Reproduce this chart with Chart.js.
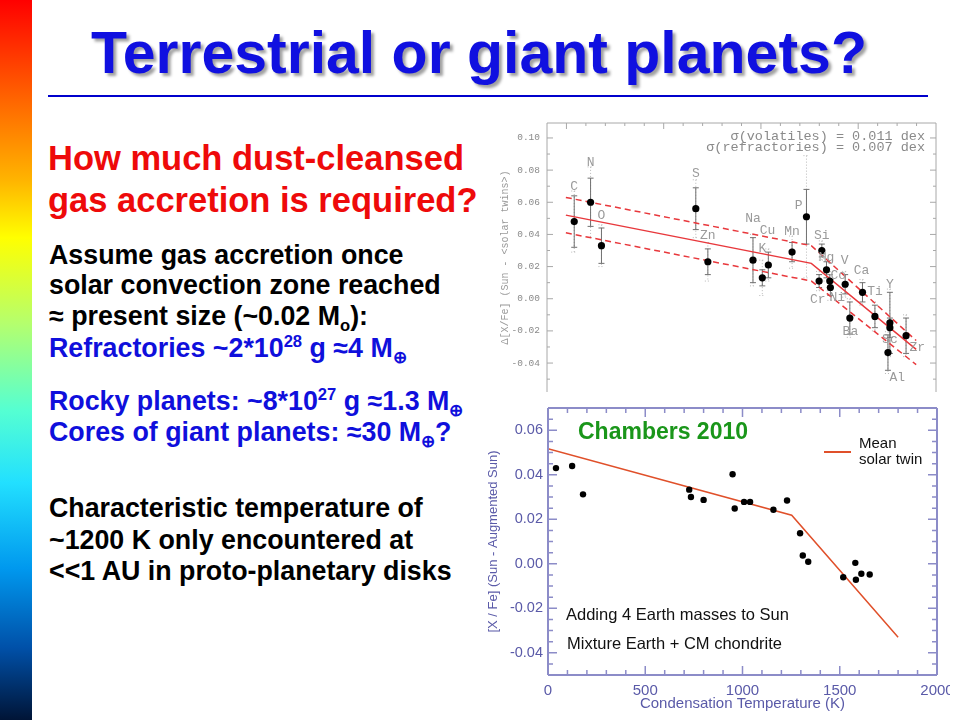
<!DOCTYPE html>
<html>
<head>
<meta charset="utf-8">
<script src="https://cdn.jsdelivr.net/npm/chart.js@4.4.0/dist/chart.umd.min.js"></script>
<style>
html, body { margin: 0; padding: 0; background: #fff; }
body { width: 960px; height: 720px; position: relative; overflow: hidden; font-family: "Liberation Sans", Arial, sans-serif; }
#bar { position: absolute; left: 0; top: 0; width: 32px; height: 720px;
  background: linear-gradient(to bottom, #ff0000 0%, #ff6600 14%, #ffb400 25%, #ffff00 33%, #b4ff6e 45%, #55ffd2 57%, #22e0ff 67%, #0098ee 79%, #0050a8 90%, #001436 100%); }
#rule { position: absolute; left: 48px; top: 95px; width: 880px; height: 2px; background: #0000cc; }
.ln { position: absolute; white-space: nowrap; font-weight: bold; }
.title { font-size: 59px; line-height: 59px; color: #1010e0; text-shadow: 3px 3px 3px #a0a0a0; }
.red { font-size: 34.5px; line-height: 34.5px; color: #ee0a0a; }
.blk { font-size: 26.8px; line-height: 26.8px; color: #000; }
.blu { font-size: 26.8px; line-height: 26.8px; color: #0f0fdc; }
sup, sub { font-size: 62%; line-height: 0; }
.note { position: absolute; white-space: nowrap; font-size: 16.5px; line-height: 16.5px; color: #111; }
.leg { position: absolute; white-space: nowrap; font-size: 15px; line-height: 15px; color: #111; }
canvas { position: absolute; }
</style>
</head>
<body>
<div id="bar"></div>
<div class="ln title" style="left:91px; top:24px;">Terrestrial or giant planets?</div>
<div id="rule"></div>

<div class="ln red" style="left:48px; top:141px;">How much dust-cleansed</div>
<div class="ln red" style="left:48px; top:183px;">gas accretion is required?</div>

<div class="ln blk" style="left:49px; top:242px;">Assume gas accretion once</div>
<div class="ln blk" style="left:49px; top:272px;">solar convection zone reached</div>
<div class="ln blk" style="left:49px; top:303px;">≈ present size (~0.02 M<sub>o</sub>):</div>
<div class="ln blu" style="left:49px; top:335px;">Refractories ~2*10<sup>28</sup> g ≈4 M<sub>⊕</sub></div>
<div class="ln blu" style="left:49px; top:388px;">Rocky planets: ~8*10<sup>27</sup> g ≈1.3 M<sub>⊕</sub></div>
<div class="ln blu" style="left:49px; top:419px;">Cores of giant planets: ≈30 M<sub>⊕</sub>?</div>

<div class="ln blk" style="left:49px; top:495px;">Characteristic temperature of</div>
<div class="ln blk" style="left:49px; top:527px;">~1200 K only encountered at</div>
<div class="ln blk" style="left:49px; top:558px;">&lt;&lt;1 AU in proto-planetary disks</div>

<canvas id="twins" width="455" height="285" style="left:490px; top:115px;"></canvas>
<canvas id="chambers" width="470" height="320" style="left:480px; top:400px;"></canvas>

<div class="ln" style="left:578px; top:420px; font-size:23px; line-height:23px; color:#1a961a;">Chambers 2010</div>
<div style="position:absolute; left:824px; top:451px; width:27px; height:2px; background:#e0502a;"></div>
<div class="leg" style="left:859px; top:435px;">Mean</div>
<div class="leg" style="left:859px; top:451px;">solar twin</div>
<div class="note" style="left:566px; top:606px;">Adding 4 Earth masses to Sun</div>
<div class="note" style="left:567px; top:635px;">Mixture Earth + CM chondrite</div>

<script>
// top panel: solar vs solar twins, by condensation temperature
const elements = ['C', 'N', 'O', 'S', 'Zn', 'Na', 'K', 'Cu', 'Mn', 'P', 'Si', 'Cr', 'Mg', 'Co', 'Ni', 'V', 'Ca', 'Ba', 'Ti', 'Y', 'Sc', 'Al', 'Zr'];
const topTc = [40, 124, 180, 665, 727, 959, 1007, 1038, 1160, 1234, 1313, 1299, 1337, 1354, 1357, 1433, 1522, 1457, 1586, 1663, 1663, 1653, 1746];
const topDelta = [0.048, 0.060, 0.033, 0.056, 0.023, 0.024, 0.013, 0.021, 0.029, 0.051, 0.030, 0.011, 0.018, 0.011, 0.007, 0.009, 0.004, -0.012, -0.011, -0.015, -0.018, -0.0335, -0.023];
const topErr = [0.016, 0.015, 0.011, 0.013, 0.008, 0.014, 0.005, 0.008, 0.006, 0.017, 0.004, 0.004, 0.005, 0.004, 0.005, 0.006, 0.006, 0.010, 0.007, 0.019, 0.006, 0.011, 0.011];
const topErrWide = [0.019, 0.022, 0.013, 0.018, 0.012, 0.016, 0.011, 0.010, 0.010, 0.038, 0.006, 0.006, 0.007, 0.006, 0.008, 0.008, 0.008, 0.012, 0.009, 0.021, 0.008, 0.013, 0.013];
// where each element name sits, in data units
const labelTc = [40, 124, 180, 665, 727, 959, 1007, 1034, 1160, 1194, 1313, 1292, 1337, 1398, 1392, 1430, 1517, 1460, 1586, 1663, 1663, 1701, 1804];
const labelDelta = [0.070, 0.085, 0.0518, 0.0778, 0.0393, 0.0497, 0.0315, 0.0424, 0.042, 0.058, 0.0395, -0.0004, 0.0255, 0.0147, 0.0006, 0.024, 0.0178, -0.0207, 0.0043, 0.0091, -0.0253, -0.049, -0.0306];

const fitTc = [-3, 1259, 1798];
const fitDelta = [0.052, 0.022, -0.0315];
const fitUpper = [0.063, 0.033, -0.026];
const fitLower = [0.041, 0.011, -0.041];
const topYTicks = [-0.04, -0.02, 0.00, 0.02, 0.04, 0.06, 0.08, 0.10];

// bottom panel: Chambers 2010 model
const chTc = [41, 124, 180, 726, 735, 800, 949, 960, 1008, 1039, 1159, 1229, 1296, 1310, 1338, 1518, 1580, 1583, 1611, 1654];
const chDelta = [0.043, 0.0439, 0.0312, 0.0333, 0.030, 0.0287, 0.0402, 0.0248, 0.0278, 0.0278, 0.0243, 0.0284, 0.0137, 0.0037, 0.0009, -0.0061, 0.0004, -0.0072, -0.0045, -0.0048];
const twinTc = [0, 1253, 1800];
const twinDelta = [0.0517, 0.0218, -0.033];
const botXTicks = [0, 500, 1000, 1500, 2000];
const botYTicks = [-0.04, -0.02, 0.00, 0.02, 0.04, 0.06];

const pts = (xs, ys) => xs.map((v, i) => ({ x: v, y: ys[i] }));

// box with inward ticks on the chosen sides
const framePlugin = {
    id: 'frame',
    afterDraw(chart, args, o) {
        const { ctx, chartArea: a, scales: { x, y } } = chart;
        ctx.save();
        ctx.strokeStyle = o.color;
        ctx.lineWidth = o.width;
        ctx.beginPath();
        if (o.sides.includes('l')) { ctx.moveTo(a.left, a.bottom); ctx.lineTo(a.left, a.top); }
        if (o.sides.includes('t')) { ctx.moveTo(a.left, a.top); ctx.lineTo(a.right, a.top); }
        if (o.sides.includes('r')) { ctx.moveTo(a.right, a.top); ctx.lineTo(a.right, a.bottom); }
        if (o.sides.includes('b')) { ctx.moveTo(a.right, a.bottom); ctx.lineTo(a.left, a.bottom); }
        ctx.stroke();

        ctx.lineWidth = o.tickWidth;
        ctx.beginPath();
        const isMajor = (v, m) => Math.abs(v / m - Math.round(v / m)) < 1e-6;
        const nx = Math.round((o.x.to - o.x.from) / o.x.step);
        for (let i = 0; i <= nx; i++) {
            const v = o.x.from + i * o.x.step;
            const px = x.getPixelForValue(v);
            if (px < a.left + 1 || px > a.right - 1) continue;
            const len = isMajor(v, o.x.major) ? o.major : o.minor;
            if (o.sides.includes('b')) { ctx.moveTo(px, a.bottom); ctx.lineTo(px, a.bottom - len); }
            if (o.sides.includes('t')) { ctx.moveTo(px, a.top); ctx.lineTo(px, a.top + len); }
        }
        const ny = Math.round((o.y.to - o.y.from) / o.y.step);
        for (let i = 0; i <= ny; i++) {
            const v = o.y.from + i * o.y.step;
            const py = y.getPixelForValue(v);
            if (py < a.top + 1 || py > a.bottom - 1) continue;
            const len = isMajor(v, o.y.major) ? o.major : o.minor;
            if (o.sides.includes('l')) { ctx.moveTo(a.left, py); ctx.lineTo(a.left + len, py); }
            if (o.sides.includes('r')) { ctx.moveTo(a.right, py); ctx.lineTo(a.right - len, py); }
        }
        ctx.stroke();
        ctx.restore();
    }
};

// error bars: solid inner, dotted outer; element names and sigma note
const errorBarPlugin = {
    id: 'errbars',
    beforeDatasetsDraw(chart, args, o) {
        if (!o.enabled) return;
        const { ctx, scales: { x, y } } = chart;
        ctx.save();
        topTc.forEach((t, i) => {
            const px = x.getPixelForValue(t);
            const draw = (e, color, dash, cap) => {
                const y1 = y.getPixelForValue(topDelta[i] + e);
                const y2 = y.getPixelForValue(topDelta[i] - e);
                ctx.strokeStyle = color;
                ctx.setLineDash(dash);
                ctx.beginPath();
                ctx.moveTo(px, y1); ctx.lineTo(px, y2);
                ctx.moveTo(px - cap, y1); ctx.lineTo(px + cap, y1);
                ctx.moveTo(px - cap, y2); ctx.lineTo(px + cap, y2);
                ctx.stroke();
            };
            ctx.lineWidth = 1;
            draw(topErrWide[i], '#b8b8b8', [1, 2], 3);
            draw(topErr[i], '#707070', [], 3);
        });
        ctx.restore();
    },
    afterDatasetsDraw(chart, args, o) {
        if (!o.enabled) return;
        const { ctx, chartArea: a, scales: { x, y } } = chart;
        ctx.save();
        ctx.fillStyle = '#9a9a9a';
        ctx.font = '13px "Liberation Mono", monospace';
        ctx.textAlign = 'center';
        ctx.textBaseline = 'middle';
        elements.forEach((el, i) => {
            ctx.fillText(el, x.getPixelForValue(labelTc[i]), y.getPixelForValue(labelDelta[i]));
        });
        ctx.fillStyle = '#8a8a8a';
        ctx.font = '13.5px "Liberation Mono", monospace';
        ctx.textAlign = 'right';
        ctx.fillText('σ(volatiles) = 0.011 dex', a.right - 11, a.top + 13);
        ctx.fillText('σ(refractories) = 0.007 dex', a.right - 11, a.top + 24);
        ctx.restore();
    }
};

Chart.register(framePlugin, errorBarPlugin);

new Chart(document.getElementById('twins'), {
    type: 'scatter',
    data: {
        datasets: [
            { data: pts(topTc, topDelta), pointRadius: 3.6, pointBackgroundColor: '#000', pointBorderWidth: 0 },
            { data: pts(fitTc, fitDelta), showLine: true, pointRadius: 0, borderColor: '#e8383c', borderWidth: 1.5 },
            { data: pts(fitTc, fitUpper), showLine: true, pointRadius: 0, borderColor: '#e8383c', borderWidth: 1.5, borderDash: [6, 4] },
            { data: pts(fitTc, fitLower), showLine: true, pointRadius: 0, borderColor: '#e8383c', borderWidth: 1.5, borderDash: [6, 4] }
        ]
    },
    options: {
        responsive: false,
        animation: false,
        events: [],
        layout: { padding: { top: 8, right: 9, bottom: 8, left: 0 } },
        plugins: {
            legend: { display: false },
            tooltip: { enabled: false },
            errbars: { enabled: true },
            frame: {
                color: '#a8a8a8', width: 1, tickWidth: 1, major: 6, minor: 3, sides: 'ltr',
                x: { from: -100, to: 1900, step: 100, major: 500 },
                y: { from: -0.05, to: 0.10, step: 0.01, major: 0.02 }
            }
        },
        scales: {
            x: { type: 'linear', display: false, min: -100, max: 1900 },
            y: {
                type: 'linear', min: -0.058, max: 0.1093,
                afterBuildTicks: s => { s.ticks = topYTicks.map(v => ({ value: v })); },
                afterFit: s => { s.width = 57; s.paddingTop = 0; s.paddingBottom = 0; },
                grid: { display: false, drawTicks: false },
                border: { display: false },
                ticks: {
                    padding: 7, color: '#8a8a8a',
                    font: { family: '"Liberation Mono", monospace', size: 9.5 },
                    callback: v => v.toFixed(2)
                },
                title: {
                    display: true, text: 'Δ[X/Fe] (Sun - <solar twins>)', color: '#9a9a9a',
                    font: { family: '"Liberation Mono", monospace', size: 10 },
                    padding: { top: 9, bottom: 0 }
                }
            }
        }
    }
});

new Chart(document.getElementById('chambers'), {
    type: 'scatter',
    data: {
        datasets: [
            { data: pts(chTc, chDelta), pointRadius: 3.2, pointBackgroundColor: '#000', pointBorderWidth: 0 },
            { data: pts(twinTc, twinDelta), showLine: true, pointRadius: 0, borderColor: '#e0502a', borderWidth: 1.5 }
        ]
    },
    options: {
        responsive: false,
        animation: false,
        events: [],
        layout: { padding: { top: 8, right: 13, bottom: 0, left: 0 } },
        plugins: {
            legend: { display: false },
            tooltip: { enabled: false },
            errbars: { enabled: false },
            frame: {
                color: '#8c8cc8', width: 2, tickWidth: 1.5, major: 9, minor: 5, sides: 'ltrb',
                x: { from: 0, to: 2000, step: 100, major: 500 },
                y: { from: -0.05, to: 0.07, step: 0.005, major: 0.02 }
            }
        },
        scales: {
            x: {
                type: 'linear', min: 0, max: 2000,
                afterBuildTicks: s => { s.ticks = botXTicks.map(v => ({ value: v })); },
                afterFit: s => { s.height = 45; s.paddingLeft = 0; s.paddingRight = 0; },
                grid: { display: false, drawTicks: false },
                border: { display: false },
                ticks: {
                    padding: 7, color: '#5a5aa8', autoSkip: false, maxRotation: 0,
                    font: { family: '"Liberation Sans", Arial, sans-serif', size: 15 },
                    callback: v => String(v)
                },
                title: {
                    display: true, text: 'Condensation Temperature (K)', color: '#5a5aa8',
                    font: { family: '"Liberation Sans", Arial, sans-serif', size: 15 },
                    padding: { top: 0, bottom: 7 }
                }
            },
            y: {
                type: 'linear', min: -0.05, max: 0.07,
                afterBuildTicks: s => { s.ticks = botYTicks.map(v => ({ value: v })); },
                afterFit: s => { s.width = 68; s.paddingTop = 0; s.paddingBottom = 0; },
                grid: { display: false, drawTicks: false },
                border: { display: false },
                ticks: {
                    padding: 5, color: '#5a5aa8',
                    font: { family: '"Liberation Sans", Arial, sans-serif', size: 14.5 },
                    callback: v => v.toFixed(2)
                },
                title: {
                    display: true, text: '[X / Fe] (Sun - Augmented Sun)', color: '#5a5aa8',
                    font: { family: '"Liberation Sans", Arial, sans-serif', size: 13 },
                    padding: { top: 6, bottom: 0 }
                }
            }
        }
    }
});
</script>
</body>
</html>
